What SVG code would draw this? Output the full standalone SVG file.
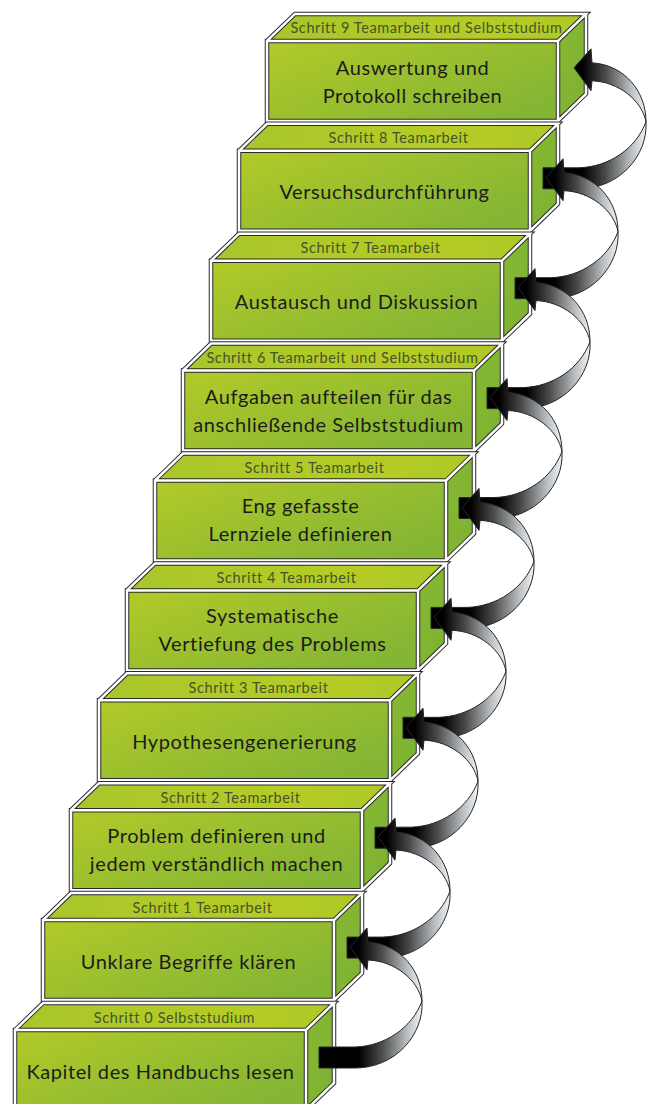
<svg xmlns="http://www.w3.org/2000/svg" xmlns:xlink="http://www.w3.org/1999/xlink" width="651" height="1104" viewBox="0 0 651 1104">
<style>
.main{font-family:Lato,"Liberation Sans",sans-serif;font-size:20px;letter-spacing:0.6px;fill:#1c1c1c;text-anchor:middle}
.lbl{font-family:Lato,"Liberation Sans",sans-serif;font-size:14.5px;letter-spacing:0.6px;fill:#44542a;text-anchor:middle}
.edk{fill:none;stroke:#2a2a2a;stroke-width:4.5;stroke-linejoin:miter}
.ewh{fill:none;stroke:#ffffff;stroke-width:2.5;stroke-linejoin:miter}
.rib{stroke:#262626;stroke-width:1}
</style>
<defs>
<linearGradient id="gFront" x1="0" y1="0" x2="1" y2="0.7">
<stop offset="0" stop-color="#b2ca28"/>
<stop offset="1" stop-color="#84b534"/>
</linearGradient>
<linearGradient id="gTop" x1="0" y1="0" x2="1" y2="0">
<stop offset="0" stop-color="#a8c62b"/>
<stop offset="0.7" stop-color="#b6cc25"/>
<stop offset="1" stop-color="#aec828"/>
</linearGradient>
<linearGradient id="gSide" x1="0" y1="0" x2="1" y2="1">
<stop offset="0" stop-color="#88b833"/>
<stop offset="1" stop-color="#7bb232"/>
</linearGradient>
<linearGradient id="gRib" gradientUnits="userSpaceOnUse" x1="40" y1="0" x2="104" y2="0">
<stop offset="0" stop-color="#000000"/>
<stop offset="0.35" stop-color="#4a4a4a"/>
<stop offset="0.75" stop-color="#b9bec2"/>
<stop offset="1" stop-color="#f5f7f8"/>
</linearGradient>
<g id="box">
<rect x="0" y="0" width="291" height="80" fill="url(#gFront)"/>
<polygon points="0,0 28,-27 319,-27 291,0" fill="url(#gTop)"/>
<polygon points="291,0 319,-27 319,53 291,80" fill="url(#gSide)"/>
<path class="edk" d="M0,0 H291 V80 H0 Z M0,0 L28,-27 H319 L291,0 M319,-27 V53 L291,80"/>
<path class="ewh" d="M0,0 H291 V80 H0 Z M0,0 L28,-27 H319 L291,0 M319,-27 V53 L291,80"/>
</g>
<g id="arrow">
<path class="rib" fill="url(#gRib)" d="M0,-10.5 L36,-10.5 C66,-11.5 93,-29.5 103,-56.5 C105,-22.5 76,10.5 36,10.5 L0,10.5 Z"/>
<path class="rib" fill="url(#gRib)" d="M103,-56.5 C103,-87.5 81,-113.5 49,-115.5 L48,-129.5 L31,-110.5 L48,-87.5 L49,-97.5 C76,-96.5 99,-77.5 103,-56.5 Z"/>
</g>
</defs>

<g id="step9" transform="translate(267,40.9)">
<use href="#box"/>
<text class="lbl" x="159.5" y="-7.5">Schritt 9 Teamarbeit und Selbststudium</text>
<text class="main" x="145.5" y="34">Auswertung und</text>
<text class="main" x="145.5" y="62">Protokoll schreiben</text>
</g>
<g id="step8" transform="translate(239,150.8)">
<use href="#box"/>
<text class="lbl" x="159.5" y="-7.5">Schritt 8 Teamarbeit</text>
<text class="main" x="145.5" y="48.5">Versuchsdurchführung</text>
</g>
<g id="step7" transform="translate(211,260.7)">
<use href="#box"/>
<text class="lbl" x="159.5" y="-7.5">Schritt 7 Teamarbeit</text>
<text class="main" x="145.5" y="48.5">Austausch und Diskussion</text>
</g>
<g id="step6" transform="translate(183,370.6)">
<use href="#box"/>
<text class="lbl" x="159.5" y="-7.5">Schritt 6 Teamarbeit und Selbststudium</text>
<text class="main" x="145.5" y="33">Aufgaben aufteilen für das</text>
<text class="main" x="145.5" y="61">anschließende Selbststudium</text>
</g>
<g id="step5" transform="translate(155,480.5)">
<use href="#box"/>
<text class="lbl" x="159.5" y="-7.5">Schritt 5 Teamarbeit</text>
<text class="main" x="145.5" y="32">Eng gefasste</text>
<text class="main" x="145.5" y="60">Lernziele definieren</text>
</g>
<g id="step4" transform="translate(127,590.4)">
<use href="#box"/>
<text class="lbl" x="159.5" y="-7.5">Schritt 4 Teamarbeit</text>
<text class="main" x="145.5" y="33">Systematische</text>
<text class="main" x="145.5" y="61">Vertiefung des Problems</text>
</g>
<g id="step3" transform="translate(99,700.3)">
<use href="#box"/>
<text class="lbl" x="159.5" y="-7.5">Schritt 3 Teamarbeit</text>
<text class="main" x="145.5" y="48.5">Hypothesengenerierung</text>
</g>
<g id="step2" transform="translate(71,810.2)">
<use href="#box"/>
<text class="lbl" x="159.5" y="-7.5">Schritt 2 Teamarbeit</text>
<text class="main" x="145.5" y="33">Problem definieren und</text>
<text class="main" x="145.5" y="61">jedem verständlich machen</text>
</g>
<g id="step1" transform="translate(43,920.1)">
<use href="#box"/>
<text class="lbl" x="159.5" y="-7.5">Schritt 1 Teamarbeit</text>
<text class="main" x="145.5" y="48.5">Unklare Begriffe klären</text>
</g>
<g id="step0" transform="translate(15,1030)">
<use href="#box"/>
<text class="lbl" x="159.5" y="-7.5">Schritt 0 Selbststudium</text>
<text class="main" x="145.5" y="48.5">Kapitel des Handbuchs lesen</text>
</g>

<g id="connectors">
<use href="#arrow" transform="translate(543,178.3)"/>
<use href="#arrow" transform="translate(515,288.2)"/>
<use href="#arrow" transform="translate(487,398.1)"/>
<use href="#arrow" transform="translate(459,508)"/>
<use href="#arrow" transform="translate(431,617.9)"/>
<use href="#arrow" transform="translate(403,727.8)"/>
<use href="#arrow" transform="translate(375,837.7)"/>
<use href="#arrow" transform="translate(347,947.6)"/>
<use href="#arrow" transform="translate(319,1057.5)"/>
</g>
</svg>
